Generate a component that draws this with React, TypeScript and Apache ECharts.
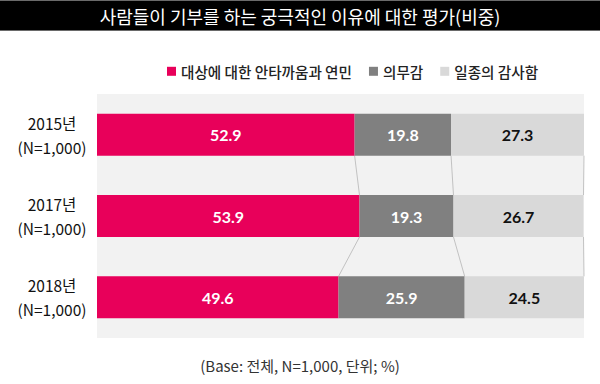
import React, { useEffect, useRef } from "react";
import * as echarts from "echarts";

const titleText = "사람들이 기부를 하는 궁극적인 이유에 대한 평가(비중)";
const footnote = "(Base: 전체, N=1,000, 단위; %)";
const categories = ["2015년\n(N=1,000)", "2017년\n(N=1,000)", "2018년\n(N=1,000)"];
const seriesNames = ["대상에 대한 안타까움과 연민", "의무감", "일종의 감사함"];
const pity = [52.9, 53.9, 49.6];
const duty = [19.8, 19.3, 25.9];
const gratitude = [27.3, 26.7, 24.5];

const COLORS = ["#e8005a", "#808080", "#d9d9d9"];
const LABEL_COLORS = ["#ffffff", "#ffffff", "#111111"];
const BAR_W = 42;
const FONT = "'Noto Sans CJK KR', 'Noto Sans', sans-serif";
const NUM_FONT = "Lato, 'Noto Sans', sans-serif";

export default function App() {
  const ref = useRef<HTMLDivElement>(null);
  useEffect(() => {
    if (!ref.current) return;
    const chart = echarts.init(ref.current, undefined, { renderer: "svg" });
    const values = [pity, duty, gratitude];

    // connectors between consecutive rows at segment boundaries
    const connectors: number[][] = [];
    for (let i = 0; i < categories.length - 1; i++) {
      const a1 = pity[i], b1 = pity[i] + duty[i], c1 = pity[i] + duty[i] + gratitude[i];
      const a2 = pity[i + 1], b2 = pity[i + 1] + duty[i + 1], c2 = pity[i + 1] + duty[i + 1] + gratitude[i + 1];
      connectors.push([a1, a2, i]);
      connectors.push([b1, b2, i]);
      connectors.push([Math.min(c1, 100), Math.min(c2, 100), i]);
    }

    const barSeries = seriesNames.map((name, k) => ({
      name,
      type: "bar",
      stack: "total",
      barWidth: BAR_W,
      data: values[k],
      itemStyle: { color: COLORS[k] },
      label: {
        show: true,
        position: "inside",
        formatter: (p: any) => Number(p.value).toFixed(1),
        color: LABEL_COLORS[k],
        fontSize: 16,
        fontWeight: "bold",
        fontFamily: NUM_FONT,
      },
      emphasis: { disabled: true },
    }));

    chart.setOption({
      animation: false,
      grid: {
        left: 97,
        right: 16,
        top: 94,
        bottom: 46,
        show: true,
        backgroundColor: "#f2f2f2",
        borderWidth: 0,
      },
      legend: {
        data: seriesNames,
        left: 162,
        top: 59,
        icon: "rect",
        itemWidth: 9,
        itemHeight: 9,
        itemGap: 17,
        textStyle: { fontSize: 14.6, color: "#222", fontFamily: FONT, fontWeight: 500 },
        selectedMode: false,
      },
      xAxis: { type: "value", min: 0, max: 100, show: false },
      yAxis: {
        type: "category",
        data: categories,
        inverse: true,
        axisLine: { show: false },
        axisTick: { show: false },
        splitLine: { show: false },
        axisLabel: {
          align: "center",
          margin: 45,
          fontSize: 15.5,
          lineHeight: 24,
          color: "#111",
          fontFamily: FONT,
        },
      },
      series: [
        ...barSeries,
        {
          type: "custom",
          name: "connector",
          data: connectors,
          encode: { x: [0, 1], y: 2 },
          silent: true,
          z: 1,
          renderItem: (params: any, api: any) => {
            const from = api.value(0);
            const to = api.value(1);
            const row = api.value(2);
            const p1 = api.coord([from, row]);
            const p2 = api.coord([to, row + 1]);
            const half = BAR_W / 2;
            return {
              type: "line",
              shape: { x1: p1[0], y1: p1[1] + half, x2: p2[0], y2: p2[1] - half },
              style: { stroke: "#b5b5b5", lineWidth: 0.8 },
            };
          },
        },
      ],
      graphic: [
        {
          type: "rect",
          shape: { x: -2, y: 0.5, width: 604, height: 30 },
          style: { fill: "#000", stroke: "#6a6a6a", lineWidth: 1 },
        },
        {
          type: "text",
          x: 300,
          y: 16,
          style: {
            text: titleText,
            fill: "#fff",
            fontSize: 18,
            fontFamily: FONT,
            textAlign: "center",
            textVerticalAlign: "middle",
          },
        },
        {
          type: "text",
          x: 300,
          y: 365,
          style: {
            text: footnote,
            fill: "#333",
            fontSize: 15,
            fontFamily: FONT,
            textAlign: "center",
            textVerticalAlign: "middle",
          },
        },
      ],
    });
    return () => chart.dispose();
  }, []);
  return (
    <div
      ref={ref}
      style={{ position: "absolute", left: 0, top: 0, width: 600, height: 384, background: "#fff" }}
    />
  );
}
